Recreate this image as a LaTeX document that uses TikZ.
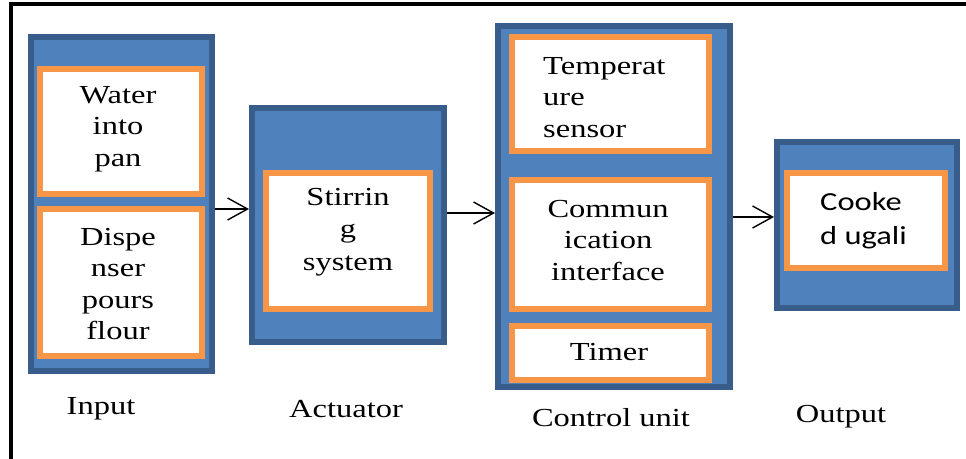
\documentclass[tikz,border=0pt]{standalone}
\usepackage{fontspec}
\setmainfont{Liberation Serif}[FakeStretch=1.25]
\newfontfamily\calib{Carlito}[FakeStretch=1.25]
\usetikzlibrary{arrows.meta,calc}
\definecolor{boxblue}{HTML}{4F81BD}
\definecolor{boxedge}{HTML}{385D8A}
\definecolor{boxorange}{HTML}{F79646}
\tikzset{
  outerbox/.style 2 args={draw=boxedge, fill=boxblue, line width=6pt, inner sep=0pt,
    minimum width=#1pt-6pt, minimum height=#2pt-6pt},
  innerbox/.style 2 args={draw=boxorange, fill=white, line width=6pt, inner sep=0pt,
    minimum width=#1pt-6pt, minimum height=#2pt-6pt},
  txt/.style={font=\fontsize{26}{31.5}\selectfont, align=center, inner sep=0pt, anchor=north, text=black},
  arr/.style={line width=1.4pt, -{Straight Barb[length=20pt,width=22pt,line width=1.4pt]}},
  frame/.style={line width=4pt, black}
}
\begin{document}
\begin{tikzpicture}[x=1pt,y=1pt]
\useasboundingbox (0,0) rectangle (966,-458);
\clip (0,0) rectangle (966,-458);
\fill[white] (0,0) rectangle (966,-458);
\draw[frame] (10.5,-480) -- (10.5,-4) -- (990,-4);

% Input
\node[outerbox={187}{340}] (in) at (121.5,-204) {};
\node[innerbox={168}{131}] (water) at (121,-131.5) {};
\node[innerbox={168}{153}] (disp) at (121,-282.5) {};
\node[txt] (waterT) at (118,-86) {Water\\into\\pan};
\node[txt] (dispT) at (118,-228) {Dispe\\nser\\pours\\flour};

% Actuator
\node[outerbox={198}{240}] (act) at (348,-225) {};
\node[innerbox={170}{142}] (stir) at (348,-241) {};
\node[txt, font=\fontsize{26}{32.5}\selectfont] (stirT) at (348,-188) {Stirrin\\g\\system};

% Control unit
\node[outerbox={238}{367}] (ctl) at (614,-206.5) {};
\node[innerbox={203}{120}] (temp) at (610.5,-94) {};
\node[innerbox={203}{135}] (comm) at (610.5,-244.5) {};
\node[innerbox={203}{60}] (timer) at (610.5,-353) {};
\node[txt, anchor=north west, align=left] (tempT) at (543,-57) {Temperat\\ure\\sensor};
\node[txt] (commT) at (608,-200) {Commun\\ication\\interface};
\node[txt] (timerT) at (609,-343) {Timer};

% Output
\node[outerbox={186}{172}] (out) at (867,-225) {};
\node[innerbox={164}{101}] (cook) at (866,-220.5) {};
\node[txt, anchor=north west, align=left, font=\calib\fontsize{26}{34}\selectfont] (cookT) at (820,-192) {Cooke\\d ugali};

% Labels
\node[txt] (inL) at (101,-397) {Input};
\node[txt] (actL) at (346,-400) {Actuator};
\node[txt] (ctlL) at (611,-408) {Control unit};
\node[txt] (outL) at (841,-405) {Output};

% Connectors
\draw[arr] ([yshift=-5pt]in.east) -- ([yshift=-5pt]in.east -| act.west);
\draw[arr] ([yshift=12pt]act.east) -- ([yshift=12pt]act.east -| ctl.west);
\draw[arr] ([yshift=-10.5pt]ctl.east) -- ([yshift=-10.5pt]ctl.east -| out.west);
\end{tikzpicture}
\end{document}
